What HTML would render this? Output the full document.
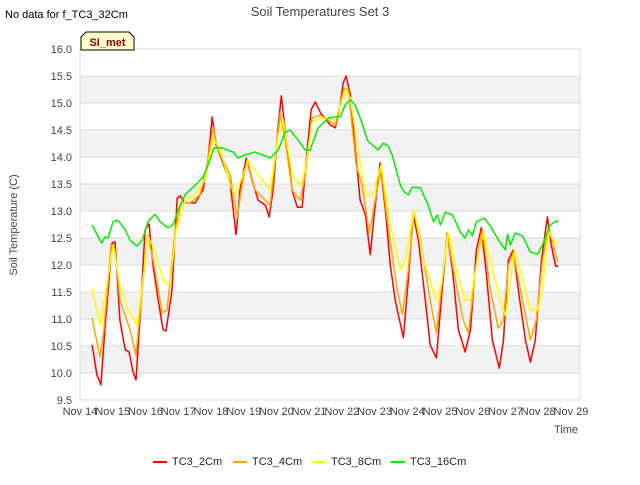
<!DOCTYPE html>
<html><head><meta charset="utf-8"><style>
body{margin:0;background:#fff;font-family:"Liberation Sans","DejaVu Sans",sans-serif;}
svg text{font-family:"Liberation Sans","DejaVu Sans",sans-serif;}
</style></head><body>
<svg id="chart" width="640" height="480" xmlns="http://www.w3.org/2000/svg">
<text x="320" y="16" text-anchor="middle" font-size="13" fill="#444">Soil Temperatures Set 3</text>
<text x="5" y="18" font-size="11" fill="#000">No data for f_TC3_32Cm</text>
<g id="plot"></g>
<g>
<path d="M81,50 L81,37 L86,32 L129,32 L134,37 L134,50 Z" fill="#ffffcc" stroke="#000" stroke-width="1"/>
<text x="107.5" y="46" text-anchor="middle" font-size="11" font-weight="bold" fill="#8b0000">SI_met</text>
</g>
<text transform="translate(17,225) rotate(-90)" text-anchor="middle" font-size="11" fill="#444">Soil Temperature (C)</text>
<text x="578" y="433" text-anchor="end" font-size="11" fill="#444">Time</text>
<g id="legend"></g>
</svg>
<script>
const xTickLabels=["Nov 14","Nov 15","Nov 16","Nov 17","Nov 18","Nov 19","Nov 20","Nov 21","Nov 22","Nov 23","Nov 24","Nov 25","Nov 26","Nov 27","Nov 28","Nov 29"];
const yTicks=[9.5,10.0,10.5,11.0,11.5,12.0,12.5,13.0,13.5,14.0,14.5,15.0,15.5,16.0];
const seriesNames=["TC3_2Cm","TC3_4Cm","TC3_8Cm","TC3_16Cm"];
const seriesColors=["#ff0000","#ffa500","#ffff00","#00ee00"];
const t2=[0.37,0.52,0.64,0.76,0.98,1.07,1.22,1.38,1.50,1.62,1.71,1.83,1.99,2.11,2.23,2.39,2.54,2.63,2.81,2.97,3.06,3.21,3.52,3.76,3.91,4.04,4.16,4.34,4.59,4.77,4.89,5.08,5.26,5.44,5.66,5.78,5.90,6.06,6.15,6.27,6.48,6.64,6.79,6.91,7.06,7.19,7.34,7.65,7.80,7.95,8.04,8.13,8.26,8.41,8.56,8.72,8.87,8.99,9.17,9.33,9.48,9.63,9.88,10.03,10.18,10.34,10.55,10.70,10.89,11.04,11.22,11.38,11.56,11.77,11.93,12.11,12.26,12.42,12.60,12.81,12.94,13.09,13.24,13.39,13.61,13.76,13.91,14.10,14.28,14.40,14.53,14.62];
const v2=[10.52,9.96,9.78,10.80,12.41,12.43,10.98,10.43,10.39,10.02,9.87,10.98,12.65,12.76,12.00,11.35,10.80,10.78,11.54,13.24,13.28,13.15,13.15,13.39,13.94,14.74,14.22,13.94,13.52,12.56,13.39,13.98,13.57,13.20,13.11,12.89,13.39,14.59,15.13,14.50,13.39,13.07,13.07,13.94,14.87,15.02,14.83,14.59,14.54,14.96,15.37,15.50,15.15,14.13,13.20,12.93,12.19,12.93,13.89,13.02,12.00,11.35,10.65,11.72,12.96,12.46,11.35,10.52,10.28,11.35,12.59,11.91,10.80,10.39,10.80,12.28,12.69,11.81,10.61,10.09,10.61,12.09,12.28,11.54,10.61,10.20,10.61,12.09,12.89,12.37,11.98,11.98];
const t4=[0.37,0.61,0.73,0.95,1.07,1.22,1.53,1.71,1.90,2.08,2.29,2.51,2.66,2.91,3.09,3.36,3.67,3.85,4.07,4.22,4.59,4.80,4.95,5.11,5.35,5.66,5.81,6.12,6.27,6.48,6.73,6.88,7.09,7.34,7.80,8.07,8.20,8.44,8.62,8.84,9.02,9.20,9.39,9.69,9.85,10.03,10.21,10.40,10.70,10.89,11.04,11.22,11.47,11.71,11.87,12.08,12.29,12.54,12.78,12.94,13.09,13.24,13.46,13.76,13.94,14.13,14.31,14.43,14.59];
const v4=[11.02,10.30,10.80,12.37,12.28,11.35,10.80,10.33,11.54,12.56,11.91,11.11,11.17,12.65,13.15,13.15,13.30,13.76,14.54,14.13,13.67,12.87,13.48,13.94,13.39,13.20,13.11,14.81,14.31,13.39,13.20,13.67,14.72,14.78,14.59,15.28,15.24,13.85,13.48,12.59,13.20,13.80,12.83,11.54,11.09,11.91,13.00,12.46,11.35,10.74,11.54,12.56,11.72,10.98,10.74,11.91,12.65,11.54,10.83,10.98,12.00,12.22,11.54,10.61,10.98,12.09,12.69,12.46,12.06];
const t8=[0.37,0.61,0.80,1.01,1.22,1.47,1.74,1.90,2.08,2.29,2.54,2.75,2.94,3.21,3.52,3.82,4.07,4.28,4.59,4.74,4.95,5.14,5.44,5.81,6.06,6.21,6.48,6.73,6.88,7.09,7.34,7.80,8.13,8.26,8.50,8.72,8.93,9.20,9.48,9.79,9.94,10.21,10.49,10.89,11.04,11.25,11.50,11.77,11.93,12.14,12.32,12.54,12.84,13.00,13.15,13.27,13.46,13.76,13.98,14.13,14.31,14.46,14.62];
const v8=[11.57,10.89,11.54,12.37,11.63,11.17,10.89,11.63,12.52,12.28,11.72,11.63,12.65,13.20,13.30,13.57,14.35,14.13,13.48,13.30,13.61,13.94,13.67,13.39,14.41,14.69,13.67,13.48,13.76,14.65,14.72,14.69,15.24,15.09,14.13,13.30,13.28,13.85,12.74,11.91,12.09,13.02,12.09,11.35,11.63,12.61,11.91,11.35,11.35,12.09,12.59,12.09,11.35,11.07,11.72,12.28,11.91,11.17,11.17,11.54,12.61,12.46,12.37];
const t16=[0.37,0.61,0.67,0.76,0.86,1.01,1.16,1.38,1.53,1.74,1.90,2.08,2.29,2.45,2.69,2.84,3.00,3.21,3.52,3.76,3.91,4.10,4.34,4.68,4.83,5.05,5.35,5.66,5.81,6.06,6.27,6.42,6.67,6.88,7.03,7.28,7.58,7.80,7.95,8.10,8.26,8.41,8.62,8.78,8.93,9.11,9.27,9.42,9.54,9.79,9.91,10.03,10.15,10.40,10.64,10.80,10.92,11.01,11.16,11.38,11.62,11.77,11.87,11.99,12.11,12.35,12.54,12.84,13.00,13.06,13.15,13.30,13.52,13.76,13.98,14.13,14.37,14.53,14.62];
const v16=[12.74,12.46,12.41,12.52,12.50,12.80,12.83,12.65,12.46,12.35,12.46,12.80,12.94,12.80,12.69,12.74,13.02,13.30,13.48,13.63,13.85,14.17,14.17,14.09,13.98,14.04,14.09,14.02,13.98,14.13,14.46,14.50,14.31,14.13,14.13,14.54,14.72,14.74,14.74,14.96,15.06,14.96,14.63,14.31,14.22,14.13,14.26,14.20,14.04,13.48,13.35,13.30,13.44,13.43,13.11,12.80,12.93,12.74,12.98,12.93,12.61,12.50,12.65,12.54,12.80,12.87,12.72,12.41,12.28,12.57,12.37,12.59,12.54,12.24,12.20,12.37,12.74,12.81,12.81];

const X0=80,X1=580,Y0=49,Y1=400,DAY=32.73;
const xs=t=>X0+t*DAY;
const ys=v=>Y0+(16-v)*(Y1-Y0)/6.5;
const NS="http://www.w3.org/2000/svg";
function mk(tag,attrs,parent){const e=document.createElementNS(NS,tag);for(const k in attrs)e.setAttribute(k,attrs[k]);parent.appendChild(e);return e;}
const plot=document.getElementById('plot');
mk('rect',{x:X0,y:Y0,width:X1-X0,height:Y1-Y0,fill:'#fff'},plot);
for(let v=10;v<16;v+=1){
  const b=mk('rect',{x:X0,y:ys(v+0.5),width:X1-X0,height:ys(v)-ys(v+0.5),fill:'#f2f2f2'},plot);
  
  
}
yTicks.forEach(v=>{
  const l=mk('line',{x1:X0,x2:X1,y1:ys(v),y2:ys(v),stroke:'#dcdcdc','stroke-width':1},plot);
  
  
  const t=mk('text',{x:X0-8,y:ys(v)+4,'text-anchor':'end','font-size':11,fill:'#444'},plot);
  t.textContent=v.toFixed(1);
  
  
});
xTickLabels.forEach((s,i)=>{
  const t=mk('text',{x:xs(i),y:Y1+15,'text-anchor':'middle','font-size':11,fill:'#444'},plot);
  t.textContent=s;
  
  
});
mk('rect',{x:X0,y:Y0,width:X1-X0,height:Y1-Y0,fill:'none',stroke:'#dcdcdc'},plot);
const allT=[t2,t4,t8,t16],allV=[v2,v4,v8,v16];
allT.forEach((T,si)=>{
  const d=T.map((t,i)=>(i?'L':'M')+xs(t).toFixed(1)+','+ys(allV[si][i]).toFixed(1)).join(' ');
  const p=mk('path',{d:d,fill:'none',stroke:seriesColors[si],'stroke-width':1.5,'stroke-linejoin':'round'},plot);
  
  
});
const lg=document.getElementById('legend');
const lx=[153,233,312,391];
seriesNames.forEach((n,i)=>{
  const g=mk('g',{},lg);
  
  
  mk('line',{x1:lx[i],x2:lx[i]+14,y1:462,y2:462,stroke:seriesColors[i],'stroke-width':2},g);
  const t=mk('text',{x:lx[i]+19,y:465,'font-size':11,fill:'#222'},g);
  t.textContent=n;
});
</script>
</body></html>
